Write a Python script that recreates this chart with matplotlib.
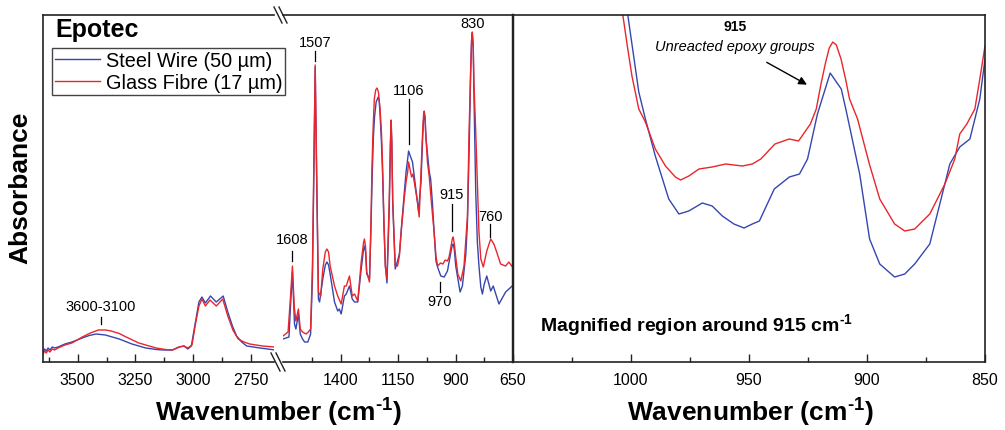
import matplotlib
matplotlib.use("Agg")
import matplotlib.pyplot as plt
from matplotlib.lines import Line2D
from matplotlib.ticker import FixedLocator

plt.rcParams['font.family'] = ['Liberation Sans', 'DejaVu Sans']
plt.rcParams['mathtext.fontset'] = 'custom'
plt.rcParams['mathtext.rm'] = 'Liberation Sans:bold'
plt.rcParams['mathtext.default'] = 'regular'
plt.rcParams['axes.unicode_minus'] = False

BLUE = '#3646b0'
RED = '#e8262c'
INK = '#222222'

# ---- data (absorbance, arbitrary units) ----
# high wavenumber part, 3650-2650 cm-1
hi_wn_steel = [3650, 3643, 3636, 3628, 3620, 3610, 3600, 3585, 3555, 3525, 3480, 3450, 3420,
               3380, 3350, 3320, 3265, 3205, 3160, 3130, 3090, 3060, 3040, 3023, 3008, 2990,
               2975, 2962, 2947, 2925, 2900, 2870, 2850, 2830, 2812, 2790, 2768, 2710, 2645]
hi_steel = [0.10, 0.13, 0.11, 0.14, 0.12, 0.15, 0.14, 0.15, 0.18, 0.20, 0.24, 0.265, 0.28,
            0.27, 0.25, 0.23, 0.18, 0.14, 0.125, 0.12, 0.12, 0.15, 0.16, 0.13, 0.16, 0.40,
            0.60, 0.65, 0.59, 0.66, 0.60, 0.66, 0.50, 0.36, 0.26, 0.20, 0.16, 0.14, 0.12]

hi_wn_glass = [3650, 3643, 3636, 3628, 3620, 3610, 3600, 3585, 3555, 3525, 3480, 3445, 3410,
               3380, 3355, 3320, 3290, 3235, 3160, 3120, 3090, 3060, 3040, 3023, 3005, 2990,
               2975, 2962, 2947, 2927, 2900, 2872, 2850, 2828, 2805, 2780, 2755, 2700, 2645]
hi_glass = [0.08, 0.11, 0.09, 0.12, 0.10, 0.13, 0.12, 0.14, 0.17, 0.19, 0.25, 0.29, 0.32,
            0.32, 0.31, 0.285, 0.25, 0.19, 0.14, 0.125, 0.12, 0.15, 0.16, 0.14, 0.17, 0.38,
            0.56, 0.63, 0.56, 0.62, 0.56, 0.63, 0.46, 0.32, 0.23, 0.20, 0.18, 0.16, 0.15]

# fingerprint part, 1650-650 cm-1
lo_wn_steel = [1650, 1624, 1618, 1609, 1600, 1594, 1583, 1575, 1565, 1556, 1542, 1530, 1522,
               1515, 1510, 1504, 1496, 1491, 1477, 1466, 1459, 1452, 1445, 1426, 1412, 1405,
               1397, 1383, 1375, 1361, 1349, 1339, 1325, 1310, 1300, 1296, 1291, 1286, 1274,
               1268, 1262, 1257, 1252, 1245, 1236, 1232, 1228, 1222, 1217, 1211, 1205, 1198,
               1188, 1183, 1180, 1177, 1173, 1162, 1152, 1144, 1135, 1123, 1115, 1108, 1104,
               1095, 1087, 1075, 1061, 1050, 1043, 1039, 1036, 1032, 1028, 1014, 1008, 1000,
               993, 985, 978, 964, 949, 942, 935, 920, 914, 910, 905, 899, 880, 870, 855, 848,
               840, 834, 830, 827, 823, 820, 812, 805, 798, 790, 783, 775, 764, 747, 736, 711,
               682, 649]
lo_steel = [0.23, 0.25, 0.53, 0.90, 0.38, 0.33, 0.48, 0.28, 0.23, 0.20, 0.20, 0.28, 0.83,
            2.03, 2.95, 1.88, 0.63, 0.60, 0.83, 0.97, 1.00, 0.97, 0.88, 0.60, 0.51, 0.53,
            0.48, 0.66, 0.68, 0.76, 0.63, 0.60, 0.60, 0.93, 1.12, 1.16, 1.10, 0.88, 0.83,
            1.30, 1.88, 2.25, 2.45, 2.60, 2.65, 2.62, 2.48, 2.20, 1.88, 1.35, 0.96, 0.79,
            1.53, 2.15, 2.38, 2.20, 1.58, 0.93, 1.01, 1.08, 1.35, 1.68, 1.90, 2.03, 2.11,
            2.05, 2.00, 1.78, 1.51, 1.80, 2.23, 2.42, 2.48, 2.42, 2.23, 1.90, 1.83, 1.58,
            1.30, 1.01, 0.95, 0.86, 0.85, 0.88, 0.91, 1.10, 1.17, 1.18, 1.12, 0.96, 0.70,
            0.76, 1.08, 1.40, 2.20, 2.90, 3.22, 3.28, 3.15, 2.70, 1.70, 1.20, 0.96, 0.75, 0.68,
            0.78, 0.86, 0.71, 0.76, 0.58, 0.70, 0.77]

lo_wn_glass = [1650, 1628, 1618, 1609, 1601, 1594, 1583, 1575, 1565, 1550, 1540, 1530, 1522,
               1515, 1510, 1504, 1496, 1486, 1477, 1466, 1459, 1452, 1445, 1426, 1412, 1397,
               1383, 1375, 1361, 1349, 1339, 1325, 1310, 1300, 1296, 1291, 1286, 1274, 1268,
               1263, 1258, 1253, 1247, 1241, 1235, 1228, 1222, 1217, 1211, 1205, 1198, 1188,
               1183, 1180, 1177, 1173, 1162, 1152, 1144, 1135, 1123, 1115, 1108, 1104, 1091,
               1085, 1065, 1058, 1050, 1043, 1039, 1036, 1032, 1030, 1022, 1014, 1005, 993, 985,
               978, 965, 955, 945, 935, 928, 920, 914, 910, 905, 899, 890, 877, 863, 848, 841,
               834, 830, 827, 823, 820, 812, 798, 790, 779, 764, 747, 733, 718, 704, 682, 668,
               649]
lo_glass = [0.26, 0.30, 0.63, 0.96, 0.55, 0.41, 0.53, 0.33, 0.30, 0.28, 0.30, 0.33, 0.96,
            2.13, 2.97, 1.96, 0.70, 0.66, 0.93, 1.10, 1.13, 1.10, 0.96, 0.76, 0.66, 0.58,
            0.76, 0.76, 0.86, 0.66, 0.68, 0.61, 1.00, 1.19, 1.23, 1.15, 0.90, 0.80, 1.35,
            1.96, 2.35, 2.63, 2.72, 2.74, 2.70, 2.53, 2.30, 1.96, 1.40, 0.96, 0.83, 1.63,
            2.20, 2.42, 2.22, 1.63, 0.96, 0.96, 1.06, 1.33, 1.63, 1.80, 1.90, 2.00, 1.85,
            1.88, 1.60, 1.45, 1.90, 2.30, 2.47, 2.51, 2.45, 2.30, 2.00, 1.85, 1.60, 1.30, 1.06,
            0.96, 0.99, 0.98, 1.02, 1.01, 1.05, 1.15, 1.23, 1.25, 1.18, 1.05, 0.88, 0.81, 0.96,
            1.46, 2.30, 2.93, 3.22, 3.30, 3.18, 2.80, 2.30, 1.30, 1.03, 0.95, 1.11, 1.23, 1.18,
            1.08, 0.98, 0.96, 1.00, 0.94]

# magnified region, 1050-850 cm-1
mag_wn_steel = [1003, 1001.3, 996.7, 993.9, 989.7, 984, 979.7, 975.5, 969.8, 965.6, 961.3,
                956.4, 952.1, 948.6, 945.6, 939.3, 932.9, 928.6, 925.2, 921, 915.6, 910.9,
                908.7, 903.1, 898.9, 894.6, 888.3, 884, 879.8, 873.4, 864.9, 860.7, 856.4,
                852.2, 850]
mag_steel = [3.74, 3.46, 2.70, 2.43, 2.06, 1.63, 1.48, 1.51, 1.59, 1.56, 1.46,
             1.38, 1.34, 1.38, 1.41, 1.73, 1.85, 1.88, 2.03, 2.48, 2.89, 2.73,
             2.50, 1.88, 1.23, 0.98, 0.85, 0.88, 0.98, 1.18, 1.98, 2.15, 2.23,
             2.63, 3.03]

mag_wn_glass = [1005, 1003.4, 1001.5, 999.6, 996.7, 993.9, 989.7, 985.4, 981.2, 979, 975.5,
                971.2, 965.6, 959.9, 952.8, 948.6, 945, 939, 933, 929, 924, 921.5, 919.5,
                917.5, 916, 914.5, 913, 911, 909, 907.4, 904, 899, 894.6, 888.3, 884, 879.8,
                873.4, 867, 862.8, 860.7, 857.7, 854.3, 852.2, 850]
mag_glass = [3.72, 3.46, 3.15, 2.86, 2.53, 2.40, 2.13, 1.96, 1.85, 1.82, 1.86,
             1.93, 1.95, 1.98, 1.96, 1.98, 2.03, 2.18, 2.23, 2.21, 2.38, 2.53, 2.78,
             3.00, 3.14, 3.20, 3.17, 3.03, 2.82, 2.63, 2.43, 1.98, 1.63, 1.38, 1.31, 1.33,
             1.48, 1.78, 2.03, 2.28, 2.38, 2.53, 2.83, 3.16]

# peak labels: text, wavenumber, text height, marker line from, to
hi_labels = [("3600-3100", 3400, 0.56, 0.38, 0.45)]
lo_labels = [("1608", 1609, 1.23, 1.01, 1.11),
             ("1507", 1510, 3.20, 3.01, 3.11),
             ("1106", 1104, 2.72, 2.18, 2.63),
             ("915", 916, 1.68, 1.31, 1.58),
             ("830", 825, 3.39, None, None),
             ("760", 748, 1.46, 1.25, 1.38),
             ("970", 968, 0.61, 0.70, 0.80)]

W, H = 1005, 431
fig = plt.figure(figsize=(W / 100, H / 100), dpi=100)


def fx(px):
    return px / W


def fy(py):
    return 1 - py / H


bottom, top = 363, 16
ax1 = fig.add_axes([fx(43), fy(bottom), fx(274) - fx(43), fy(top) - fy(bottom)])
ax2 = fig.add_axes([fx(283), fy(bottom), fx(513) - fx(283), fy(top) - fy(bottom)])
ax3 = fig.add_axes([fx(513), fy(bottom), fx(985) - fx(513), fy(top) - fy(bottom)])

for ax in (ax1, ax2, ax3):
    ax.set_ylim(0, 3.47)
    ax.set_yticks([])
    ax.tick_params(axis='x', direction='in', length=6, width=1, labelsize=11.5,
                   pad=7, colors=INK, labelcolor='black')
    ax.tick_params(axis='x', which='minor', direction='in', length=3.5, width=1, colors=INK)
    for s in ax.spines.values():
        s.set_color(INK)
        s.set_linewidth(1.2)
    ax.patch.set_alpha(0)

ax1.spines['right'].set_visible(False)
ax2.spines['left'].set_visible(False)
ax2.spines['right'].set_linewidth(1.6)
ax3.spines['left'].set_linewidth(1.6)

ax1.plot(hi_wn_steel, hi_steel, color=BLUE, lw=1.0)
ax1.plot(hi_wn_glass, hi_glass, color=RED, lw=1.0)
ax1.set_xlim(3650, 2650)
ax1.set_xticks([3500, 3250, 3000, 2750])
ax1.xaxis.set_minor_locator(FixedLocator([3625, 3375, 3125, 2875]))

ax2.plot(lo_wn_steel, lo_steel, color=BLUE, lw=1.0, label='Steel Wire (50 µm)')
ax2.plot(lo_wn_glass, lo_glass, color=RED, lw=1.0, label='Glass Fibre (17 µm)')
ax2.set_xlim(1650, 650)
ax2.set_xticks([1400, 1150, 900, 650])
ax2.xaxis.set_minor_locator(FixedLocator([1525, 1275, 1025, 775]))

ax3.plot(mag_wn_steel, mag_steel, color=BLUE, lw=1.0)
ax3.plot(mag_wn_glass, mag_glass, color=RED, lw=1.0)
ax3.set_xlim(1050, 850)
ax3.set_xticks([1000, 950, 900, 850])
ax3.xaxis.set_minor_locator(FixedLocator([1025, 975, 925, 875]))

for ax, labels in ((ax1, hi_labels), (ax2, lo_labels)):
    for txt, wn, ty, l0, l1 in labels:
        ax.text(wn, ty, txt, ha='center', va='center', fontsize=10.5)
        if l0 is not None:
            ax.plot([wn, wn], [l0, l1], color='black', lw=0.9)

# magnified panel annotations
ax3.text(955.8, 3.36, '915', ha='center', va='center', fontsize=10, fontweight='bold')
ax3.text(955.8, 3.16, 'Unreacted epoxy groups', ha='center', va='center',
         fontsize=10.5, style='italic')
ax3.annotate('', xy=(924.4, 2.76), xytext=(943.5, 3.01),
             arrowprops=dict(arrowstyle='-|>', color='black', lw=1.0, mutation_scale=12))
ax3.text(0.057, 0.11, r'Magnified region around 915 cm$^{\text{-1}}$', transform=ax3.transAxes,
         ha='left', va='center', fontsize=14, fontweight='bold')

# axis break marks
for x0 in (274, 279):
    fig.add_artist(Line2D([fx(x0), fx(x0 + 8)], [fy(8), fy(24)], color=INK, lw=1.0))
    fig.add_artist(Line2D([fx(x0 - 3), fx(x0 + 6)], [fy(354), fy(372)], color=INK, lw=1.0))

fig.text(fx(55), fy(30), 'Epotec', fontsize=18, fontweight='bold', ha='left', va='center')
fig.legend(loc='upper left', bbox_to_anchor=(fx(52), fy(49)), bbox_transform=fig.transFigure,
           fontsize=14.3, frameon=True, fancybox=False, edgecolor='#444444',
           handlelength=2.25, handletextpad=0.3, borderpad=0.15, labelspacing=0.15,
           borderaxespad=0, framealpha=1)

fig.text(fx(20), fy(188), 'Absorbance', rotation=90, fontsize=19, fontweight='bold',
         ha='center', va='center')
fig.text(fx(278), fy(413), r'Wavenumber (cm$^{\text{-1}}$)', fontsize=19, fontweight='bold',
         ha='center', va='center')
fig.text(fx(750), fy(413), r'Wavenumber (cm$^{\text{-1}}$)', fontsize=19, fontweight='bold',
         ha='center', va='center')

fig.savefig('out.png', dpi=100)
